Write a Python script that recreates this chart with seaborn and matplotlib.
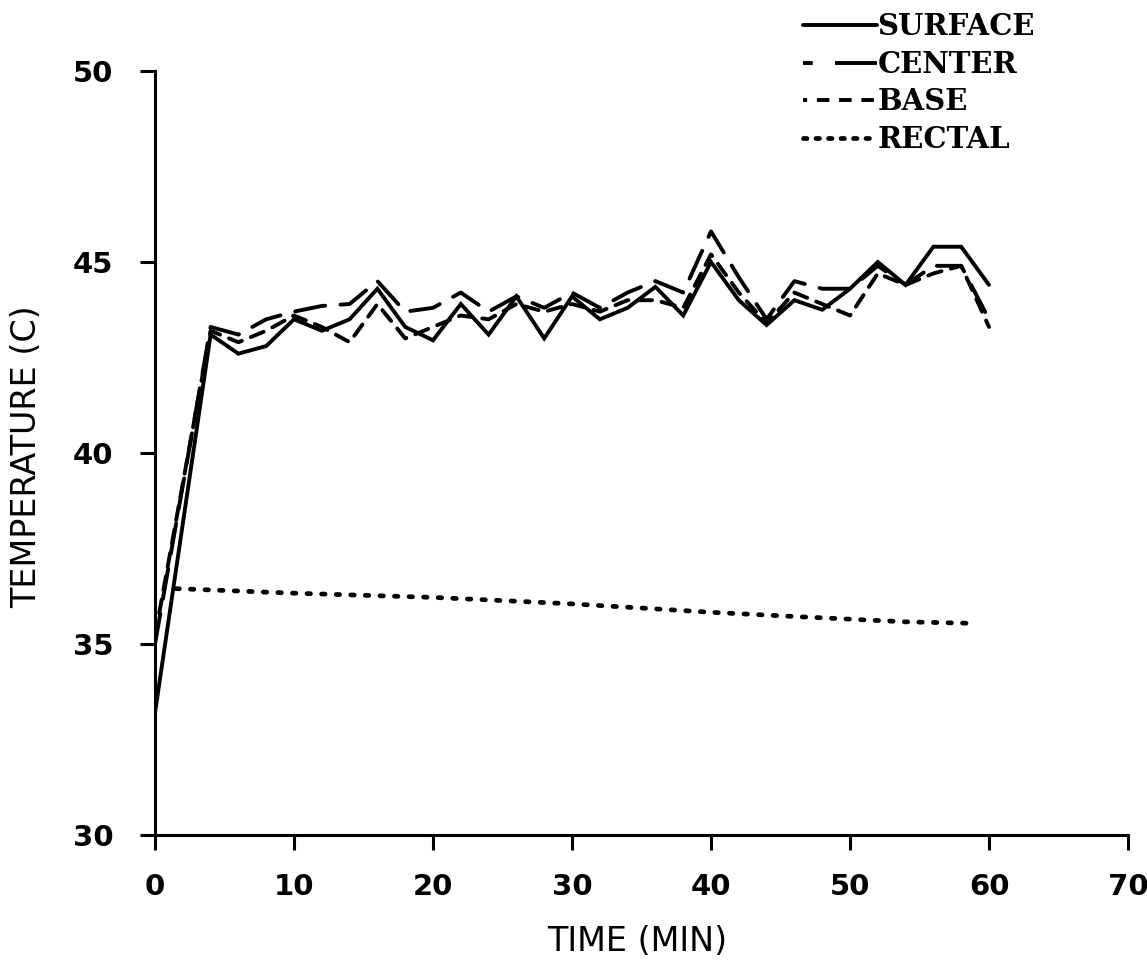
import matplotlib
matplotlib.use("Agg")
import matplotlib.pyplot as plt
from matplotlib.lines import Line2D
import seaborn as sns

# ---- data ----
surface_t = [0, 4, 6, 8, 10, 12, 14, 16, 18, 20, 22, 24, 26, 28, 30, 32, 34, 36, 38, 40,
             42, 44, 46, 48, 50, 52, 54, 56, 58, 60]
surface = [33.2, 43.1, 42.6, 42.8, 43.5, 43.2, 43.5, 44.3, 43.3, 42.95, 43.9, 43.1, 44.1, 43.0,
           44.1, 43.5, 43.8, 44.35, 43.6, 45.0, 44.0, 43.35, 44.0, 43.75, 44.3, 45.0, 44.4,
           45.4, 45.4, 44.4]

center_t = [0, 4, 6, 8, 10, 12, 14, 16, 18, 20, 22, 24, 26, 28, 30, 32, 34, 36, 38, 40,
            42, 44, 46, 48, 50, 52, 54, 56, 58, 60]
center = [35.0, 43.3, 43.1, 43.5, 43.7, 43.85, 43.9, 44.5, 43.7, 43.8, 44.2, 43.7, 44.1, 43.8,
          44.2, 43.8, 44.2, 44.5, 44.2, 45.8, 44.6, 43.5, 44.5, 44.3, 44.3, 44.9, 44.4,
          44.9, 44.9, 43.5]

base_t = [0, 4, 6, 8, 10, 12, 14, 16, 18, 20, 22, 24, 26, 28, 30, 32, 34, 36, 38, 40,
          42, 44, 46, 48, 50, 52, 54, 56, 58, 60]
base = [35.2, 43.2, 42.9, 43.2, 43.6, 43.3, 42.9, 43.9, 43.0, 43.3, 43.6, 43.5, 43.9, 43.7,
        43.9, 43.7, 44.0, 44.0, 43.8, 45.2, 44.2, 43.4, 44.2, 43.9, 43.6, 44.7, 44.4,
        44.7, 44.9, 43.3]

rectal_t = [1.5, 10, 20, 26, 30, 36, 40, 46, 50, 54, 59]
rectal = [36.45, 36.33, 36.22, 36.12, 36.05, 35.92, 35.83, 35.72, 35.65, 35.58, 35.54]

labels = ["SURFACE", "CENTER", "BASE", "RECTAL"]
x_ticks = [0, 10, 20, 30, 40, 50, 60, 70]
y_ticks = [30, 35, 40, 45, 50]

# ---- style ----
sns.set_theme(style="ticks")
plt.rcParams["font.family"] = ["DejaVu Sans"]
plt.rcParams["lines.scale_dashes"] = False
plt.rcParams["text.color"] = "black"
plt.rcParams["axes.labelcolor"] = "black"
plt.rcParams["xtick.color"] = "black"
plt.rcParams["ytick.color"] = "black"

fig = plt.figure(figsize=(11.47, 9.63), dpi=100)
ax = fig.add_axes([155 / 1147, (963 - 835) / 963, (1128 - 155) / 1147, (835 - 71) / 963])

LW = 2.8
sns.lineplot(x=surface_t, y=surface, ax=ax, color="black", linewidth=LW, sort=False,
             linestyle="-", solid_joinstyle="miter")
sns.lineplot(x=center_t, y=center, ax=ax, color="black", linewidth=LW, sort=False,
             linestyle=(0, (22, 11)), dash_capstyle="round")
sns.lineplot(x=base_t, y=base, ax=ax, color="black", linewidth=LW, sort=False,
             linestyle=(0, (10, 7)), dash_capstyle="round")
sns.lineplot(x=rectal_t, y=rectal, ax=ax, color="black", linewidth=LW + 0.6, sort=False,
             linestyle=(0, (2.5, 8)), dash_capstyle="round")

ax.set_xlim(0, 70)
ax.set_ylim(30, 50)
ax.set_xticks(x_ticks)
ax.set_yticks(y_ticks)
ax.set_xticklabels([str(v) for v in x_ticks], fontsize=21, fontweight="bold")
ax.set_yticklabels([str(v) for v in y_ticks], fontsize=21, fontweight="bold")
ax.tick_params(axis="both", direction="out", length=11, width=2.2, color="black")
ax.tick_params(axis="x", pad=16)
ax.tick_params(axis="y", pad=19)
for s in ["top", "right"]:
    ax.spines[s].set_visible(False)
for s in ["left", "bottom"]:
    ax.spines[s].set_linewidth(2.2)
    ax.spines[s].set_color("black")

ax.set_xlabel("TIME (MIN)", fontsize=24, va="center")
ax.set_ylabel("TEMPERATURE (C)", fontsize=24, va="center")
ax.xaxis.set_label_coords((637 - 155) / 973, (835 - 941) / 764)
ax.yaxis.set_label_coords((27 - 155) / 973, (835 - 457) / 764)

# ---- legend (proxy handles reproduce the printed key) ----
handles = [
    Line2D([], [], color="black", lw=LW, linestyle="-"),
    Line2D([], [], color="black", lw=LW, linestyle=(0, (7, 16, 32, 4))),
    Line2D([], [], color="black", lw=LW, linestyle=(0, (3, 7, 9, 7, 9, 7, 9, 7))),
    Line2D([], [], color="black", lw=LW + 0.6, linestyle=(0, (2.5, 6.5)), dash_capstyle="round"),
]
leg = ax.legend(handles, labels, loc="upper left", bbox_to_anchor=(803 / 1147, 1 - 12 / 963),
                bbox_transform=fig.transFigure, frameon=False, handlelength=2.55,
                handletextpad=0.0, borderaxespad=0, borderpad=0, labelspacing=0.3,
                prop={"family": "DejaVu Serif", "weight": "bold", "size": 21})

fig.savefig("out.png", dpi=100)
